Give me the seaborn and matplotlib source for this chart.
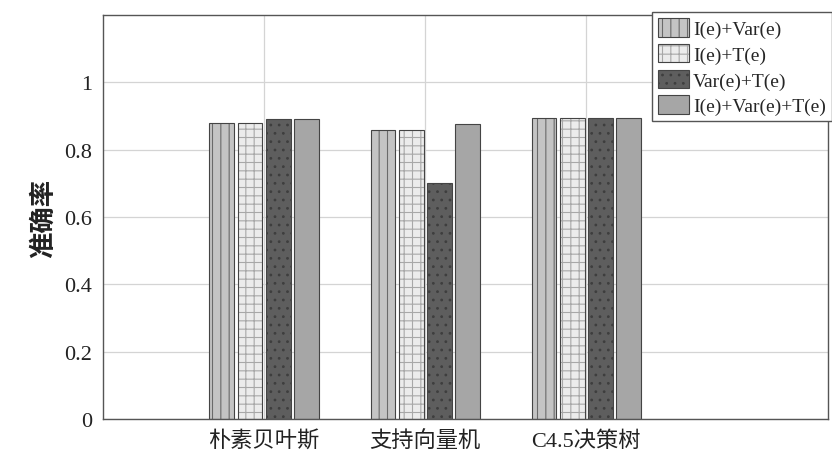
import matplotlib
matplotlib.use("Agg")
import matplotlib.pyplot as plt
import seaborn as sns
import pandas as pd

# Classifier accuracy for four feature combinations
classifiers = ["朴素贝叶斯", "支持向量机", "C4.5决策树"]
features = ["I(e)+Var(e)", "I(e)+T(e)", "Var(e)+T(e)", "I(e)+Var(e)+T(e)"]
acc_ie_var = [0.878, 0.858, 0.893]
acc_ie_t = [0.878, 0.858, 0.893]
acc_var_t = [0.890, 0.700, 0.893]
acc_all = [0.890, 0.875, 0.893]
yticks = [0, 0.2, 0.4, 0.6, 0.8, 1.0]
ytick_labels = ["0", "0.2", "0.4", "0.6", "0.8", "1"]

rows = []
for feat, vals in zip(features, [acc_ie_var, acc_ie_t, acc_var_t, acc_all]):
    for clf, v in zip(classifiers, vals):
        rows.append({"classifier": clf, "feature": feat, "accuracy": v})
df = pd.DataFrame(rows)

sns.set_theme(style="whitegrid")
serif_cjk = ["Liberation Serif", "Noto Sans CJK SC", "DejaVu Sans"]
plt.rcParams["font.family"] = serif_cjk
plt.rcParams["hatch.linewidth"] = 0.8

fills = ["#c4c4c4", "#ececec", "#5e5e5e", "#a6a6a6"]
hatches = ["||", "++", "..", ""]
hatch_cols = ["#6a6a6a", "#a8a8a8", "#3e3e3e", "#8a8a8a"]

fig = plt.figure(figsize=(8.32, 4.64), dpi=100)
ax = fig.add_axes([103 / 832, 1 - 420 / 464, 725 / 832, 404 / 464])

sns.barplot(data=df, x="classifier", y="accuracy", hue="feature",
            order=classifiers, hue_order=features, palette=fills,
            width=0.70, gap=0.12, edgecolor="#444444", linewidth=0.8,
            saturation=1, ax=ax, legend=True)

# grayscale hatch patterns per series
for i, container in enumerate(ax.containers):
    for bar in container:
        bar.set_hatch(hatches[i])
        bar.set_facecolor(fills[i])
        bar._hatch_color = matplotlib.colors.to_rgba(hatch_cols[i])

ax.set_xlim(-1, 3.5)
ax.set_ylim(0, 1.2)
ax.set_yticks(yticks)
ax.set_yticklabels(ytick_labels)
ax.set_xlabel("")
ax.set_ylabel("准确率", fontsize=19, family=serif_cjk, color="#222222",
              labelpad=6, fontweight="bold")

ax.grid(True, color="#d4d4d4", linewidth=0.9)
ax.set_axisbelow(True)
for side in ["left", "bottom", "top", "right"]:
    ax.spines[side].set_visible(True)
    ax.spines[side].set_color("#555555")
    ax.spines[side].set_linewidth(1.0)
ax.tick_params(axis="both", direction="in", length=4, color="#555555",
               labelsize=16, labelcolor="#222222")
ax.tick_params(axis="y", pad=8)
ax.tick_params(axis="x", pad=8, labelsize=16)

handles, labels = ax.get_legend_handles_labels()
for i, h in enumerate(handles):
    h.set_hatch(hatches[i])
    h._hatch_color = matplotlib.colors.to_rgba(hatch_cols[i])
ax.legend(handles, labels, loc="upper left",
          bbox_to_anchor=(652 / 832, 1 - 13 / 464), bbox_transform=fig.transFigure,
          frameon=True, fancybox=False, edgecolor="#555555", framealpha=1,
          prop={"family": serif_cjk, "size": 14}, handlelength=1.6,
          handleheight=1.1, handletextpad=0.2, labelspacing=0.3,
          borderpad=0.3, borderaxespad=0)

fig.savefig("out.png", dpi=100)
